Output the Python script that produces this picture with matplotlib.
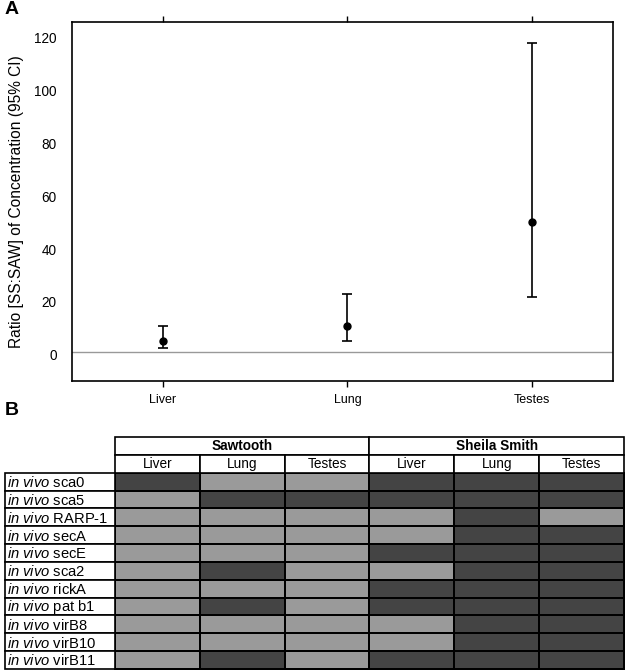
import numpy as np
import matplotlib
matplotlib.use('Agg')
import matplotlib.pyplot as plt
from matplotlib.colors import ListedColormap
from matplotlib.patches import Rectangle

plt.rcParams['font.family'] = ['Liberation Sans', 'DejaVu Sans']
plt.rcParams['mathtext.fontset'] = 'custom'
plt.rcParams['mathtext.rm'] = 'Liberation Sans'
plt.rcParams['mathtext.it'] = 'Liberation Sans:italic'

# panel A: SS:SAW concentration ratio with 95% CI
tissues = ['Liver', 'Lung', 'Testes']
ratio = [5.2, 10.7, 50.4]
ci_low = [2.5, 5.0, 21.8]
ci_high = [10.7, 22.8, 118.0]

# panel B: in vivo expression grid (1 = dark cell, 0 = light cell)
strains = ['Sawtooth', 'Sheila Smith']
genes = ['sca0', 'sca5', 'RARP-1', 'secA', 'secE', 'sca2', 'rickA',
         'pat b1', 'virB8', 'virB10', 'virB11']
status = [
    [1, 0, 0, 1, 1, 1],
    [0, 1, 1, 1, 1, 1],
    [0, 0, 0, 0, 1, 0],
    [0, 0, 0, 0, 1, 1],
    [0, 0, 0, 1, 1, 1],
    [0, 1, 0, 0, 1, 1],
    [0, 0, 0, 1, 1, 1],
    [0, 1, 0, 1, 1, 1],
    [0, 0, 0, 0, 1, 1],
    [0, 0, 0, 0, 1, 1],
    [0, 1, 0, 1, 1, 1],
]

W, H = 625, 670
fig = plt.figure(figsize=(W / 100, H / 100), dpi=100)

# ---- panel A ----
ax = fig.add_axes([72 / W, 1 - 381 / H, 541 / W, 359 / H])
x = np.arange(1, len(tissues) + 1)
r = np.array(ratio)
yerr = [r - np.array(ci_low), np.array(ci_high) - r]
ax.axhline(1, color='#999999', lw=1, zorder=1)
ax.errorbar(x, r, yerr=yerr, fmt='o', color='black', ms=5,
            capsize=3.5, elinewidth=1.2, capthick=1.2, zorder=3)
ax.set_xlim(0.507, 3.44)
ax.set_ylim(-10, 126)
ax.set_yticks(range(0, 121, 20))
ax.set_xticks(x)
ax.set_xticklabels(tissues)
ax.tick_params(axis='y', length=0, pad=11, labelsize=9.8)
ax.tick_params(axis='x', top=True, direction='out', length=4.5, width=1,
               labelsize=9, pad=4.5)
ax.set_ylabel('Ratio [SS:SAW] of Concentration (95% CI)', fontsize=11.2, labelpad=7)
for s in ax.spines.values():
    s.set_linewidth(1.2)

fig.text(5 / W, 1 - 10 / H, 'A', fontsize=14, fontweight='bold', va='center')
fig.text(5 / W, 1 - 411 / H, 'B', fontsize=14, fontweight='bold', va='center')

# ---- panel B ----
lab_w = 110 / 85
tb = fig.add_axes([5 / W, 1 - 669 / H, 619 / W, 232 / H])
tb.set_xlim(-lab_w, 6)
tb.set_ylim(len(genes), -2)
tb.axis('off')
grid = np.array(status)
tb.pcolormesh(np.arange(grid.shape[1] + 1), np.arange(grid.shape[0] + 1), grid,
              cmap=ListedColormap(['#9a9a9a', '#444444']), vmin=0, vmax=1,
              edgecolors='black', linewidth=1.2, clip_on=False)

fs = 9.8
for i, st in enumerate(strains):
    tb.add_patch(Rectangle((3 * i, -2), 3, 1, fc='white', ec='black', lw=1.2, clip_on=False))
    tb.text(3 * i + 1.5, -1.5, st, ha='center', va='center', fontsize=fs, fontweight='bold')
    for j, t in enumerate(tissues):
        c = 3 * i + j
        tb.add_patch(Rectangle((c, -1), 1, 1, fc='white', ec='black', lw=1.2, clip_on=False))
        tb.text(c + 0.5, -0.5, t, ha='center', va='center', fontsize=fs)

for k, g in enumerate(genes):
    tb.add_patch(Rectangle((-lab_w, k), lab_w, 1, fc='white', ec='black', lw=1.2, clip_on=False))
    tb.text(-lab_w + 0.025, k + 0.55, r'$\it{in\ vivo}$ ' + g, ha='left', va='center', fontsize=10.6)

fig.savefig('out.png', dpi=100)
